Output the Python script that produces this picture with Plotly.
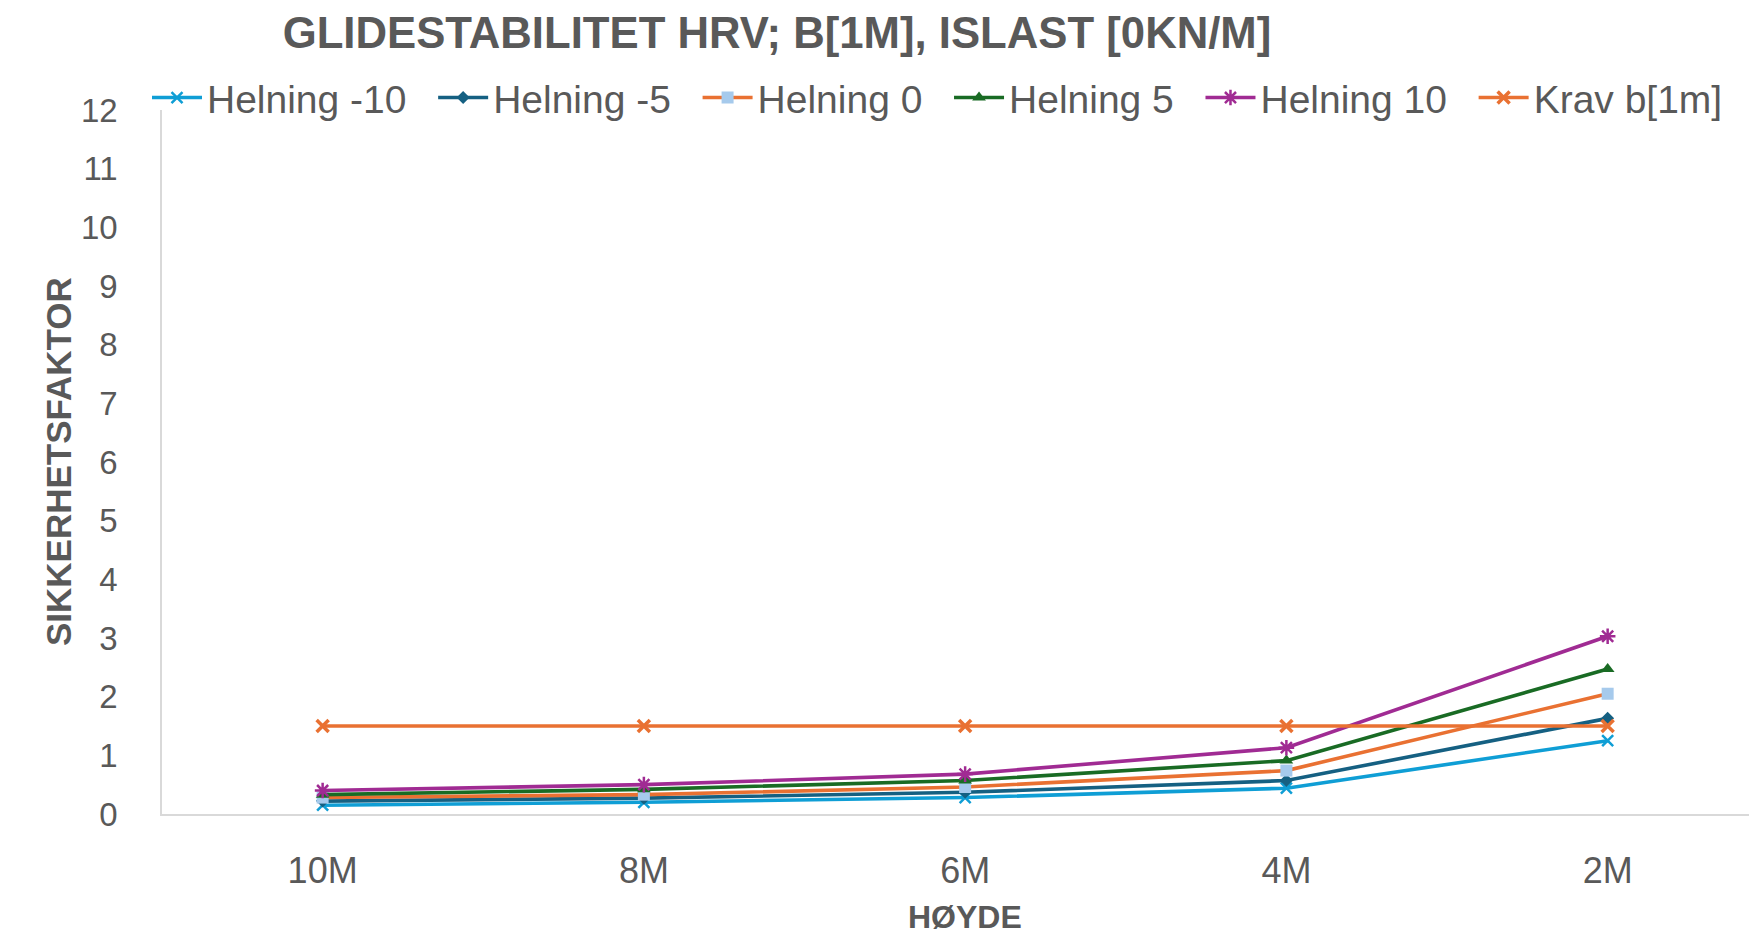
import plotly.graph_objects as go

# Heights (categories) along the x axis
hoyde = ["10M", "8M", "6M", "4M", "2M"]

# Safety factor per slope (helning)
helning_m10 = [0.15, 0.20, 0.28, 0.44, 1.25]
helning_m5 = [0.22, 0.27, 0.37, 0.57, 1.63]
helning_0 = [0.28, 0.33, 0.46, 0.74, 2.05]
helning_5 = [0.33, 0.42, 0.57, 0.91, 2.47]
helning_10 = [0.40, 0.50, 0.68, 1.13, 3.03]
krav = [1.5, 1.5, 1.5, 1.5, 1.5]

y_ticks = list(range(0, 13))

GREY = "#595959"
FONT = "Liberation Sans"
PAD = "\u00a0\u00a0"  # extra spacing after each legend entry

series = [
    ("Helning -10", helning_m10, "#0F9ED5", dict(symbol="x-thin", size=11, color="#0F9ED5",
                                                 line=dict(width=2.5, color="#0F9ED5"))),
    ("Helning -5", helning_m5, "#156082", dict(symbol="diamond", size=10, color="#156082")),
    ("Helning 0", helning_0, "#E97132", dict(symbol="square", size=12, color="#A6CAEC")),
    ("Helning 5", helning_5, "#196B24", dict(symbol="triangle-up", size=12, color="#196B24")),
    ("Helning 10", helning_10, "#A02B93", dict(symbol="asterisk", size=13, color="#A02B93",
                                               line=dict(width=2.5, color="#A02B93"))),
    ("Krav b[1m]", krav, "#E97132", dict(symbol="x-thin", size=12, color="#E97132",
                                         line=dict(width=3.5, color="#E97132"))),
]

fig = go.Figure()
for name, vals, col, mk in series:
    fig.add_trace(go.Scatter(
        x=hoyde, y=vals, name=name + PAD, mode="lines+markers",
        line=dict(color=col, width=3.6), marker=mk,
    ))

fig.update_layout(
    width=1749, height=938,
    margin=dict(l=162, r=0, t=110, b=124),
    paper_bgcolor="white", plot_bgcolor="white",
    font=dict(family=FONT, color=GREY),
    title=dict(
        text="GLIDESTABILITET HRV; B[1M], ISLAST [0KN/M]",
        font=dict(family=FONT, size=43.7, color=GREY, weight="bold"),
        x=777 / 1749, xref="container", xanchor="center",
        y=1 - 33 / 938, yref="container", yanchor="middle",
    ),
    showlegend=True,
    legend=dict(
        orientation="h", x=-0.008, xanchor="left", y=1.0175, yanchor="middle",
        font=dict(family=FONT, size=39, color=GREY),
        itemwidth=50, bgcolor="rgba(0,0,0,0)",
    ),
    xaxis=dict(
        type="category", range=[-0.5, 4.44], showgrid=False, zeroline=False,
        showline=True, linecolor="#D9D9D9", linewidth=2,
        ticks="outside", ticklen=24, tickcolor="rgba(0,0,0,0)",
        tickfont=dict(family=FONT, size=36, color=GREY),
    ),
    yaxis=dict(
        range=[0, 12], tickvals=y_ticks, showgrid=False, zeroline=False,
        showline=True, linecolor="#D9D9D9", linewidth=1.5,
        ticks="outside", ticklen=36, tickcolor="rgba(0,0,0,0)",
        tickfont=dict(family=FONT, size=33, color=GREY),
    ),
    annotations=[
        dict(text="HØYDE", x=2, xref="x", y=(814 - 917) / 704, yref="paper",
             xanchor="center", yanchor="middle", showarrow=False,
             font=dict(family=FONT, size=32, color=GREY, weight="bold")),
        dict(text="SIKKERHETSFAKTOR", x=(58 - 162) / 1587, xref="paper", y=0.5, yref="paper",
             xanchor="center", yanchor="middle", textangle=-90, showarrow=False,
             font=dict(family=FONT, size=35, color=GREY, weight="bold")),
    ],
)

fig.write_html("out.html")
